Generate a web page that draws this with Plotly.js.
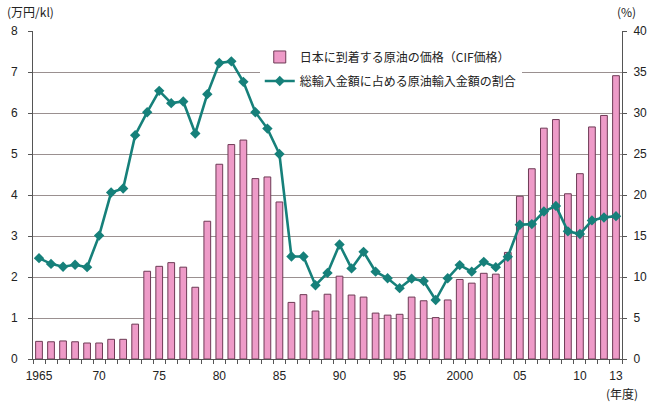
<!DOCTYPE html>
<html>
<head>
<meta charset="utf-8">
<script src="https://cdn.plot.ly/plotly-3.0.1.min.js"></script>
<style>html,body{margin:0;padding:0;background:#fff;}#chart{width:650px;height:407px;}</style>
</head>
<body>
<div id="chart"></div>
<script>
const years = [1965,1966,1967,1968,1969,1970,1971,1972,1973,1974,1975,1976,1977,1978,1979,1980,1981,1982,1983,1984,1985,1986,1987,1988,1989,1990,1991,1992,1993,1994,1995,1996,1997,1998,1999,2000,2001,2002,2003,2004,2005,2006,2007,2008,2009,2010,2011,2012,2013];
const cifPrice = [0.43,0.42,0.44,0.42,0.39,0.39,0.48,0.48,0.85,2.14,2.26,2.35,2.24,1.75,3.36,4.75,5.23,5.34,4.40,4.44,3.83,1.38,1.57,1.17,1.58,2.02,1.56,1.51,1.12,1.07,1.09,1.51,1.42,1.01,1.44,1.94,1.85,2.09,2.07,2.60,3.97,4.64,5.63,5.84,4.03,4.52,5.66,5.94,6.91];
const crudeShare = [12.3,11.6,11.25,11.5,11.2,15.05,20.3,20.8,27.3,30.1,32.7,31.2,31.4,27.5,32.3,36.1,36.3,33.8,30.1,28.1,25.0,12.5,12.5,9.0,10.5,13.96,11.05,13.07,10.65,9.85,8.64,9.8,9.52,7.19,9.85,11.45,10.65,11.85,11.2,12.46,16.38,16.45,17.99,18.67,15.57,15.24,16.9,17.26,17.42];
const tickYears = [1965,1970,1975,1980,1985,1990,1995,2000,2005,2010,2013];
const tickLabels = ['1965','70','75','80','85','90','95','2000','05','10','13'];
const boundaryTicks = years.map(y => y - 0.5).concat([years[years.length-1] + 0.5]);

const numFont = {family: 'Liberation Sans, Arial, sans-serif', size: 12, color: '#222'};
const jpFont = {family: 'Noto Sans CJK JP, sans-serif', size: 12, color: '#222'};

const traces = [
  {
    type: 'bar', x: years, y: cifPrice, name: '日本に到着する原油の価格（CIF価格）',
    width: 0.56,
    marker: {color: '#EE9BC8', line: {color: '#6E3A55', width: 1}},
    xaxis: 'x', yaxis: 'y', legendgroup: 'a'
  },
  {
    type: 'scatter', mode: 'lines+markers', x: years, y: crudeShare,
    name: '総輸入金額に占める原油輸入金額の割合',
    line: {color: '#16807A', width: 2.6},
    marker: {symbol: 'diamond', size: 8, color: '#16807A'},
    xaxis: 'x', yaxis: 'y2', legendgroup: 'b'
  },
  {
    type: 'scatter', mode: 'markers', x: [years[0]], y: [0], showlegend: false,
    marker: {opacity: 0}, hoverinfo: 'skip', xaxis: 'x2', yaxis: 'y'
  }
];

const xRange = [years[0] - 0.5, years[years.length-1] + 0.5];

const layout = {
  width: 650, height: 407,
  margin: {l: 33, r: 28, t: 31, b: 48},
  paper_bgcolor: '#fff', plot_bgcolor: '#fff',
  showlegend: true,
  legend: {
    x: 0.385, y: 0.965, xanchor: 'left', yanchor: 'top',
    bgcolor: '#fff', font: jpFont, traceorder: 'grouped', tracegroupgap: 5,
    itemwidth: 30
  },
  bargap: 0.4,
  xaxis: {
    range: xRange, tickmode: 'array', tickvals: tickYears, ticktext: tickLabels,
    ticks: '', showgrid: false, zeroline: false, showline: true,
    linecolor: '#555', linewidth: 1, tickfont: numFont, fixedrange: true,
    ticklabelstandoff: 6
  },
  xaxis2: {
    overlaying: 'x', range: xRange, tickmode: 'array', tickvals: boundaryTicks,
    showticklabels: false, ticks: 'outside', ticklen: 4, tickcolor: '#555',
    showgrid: false, zeroline: false, showline: false, side: 'bottom', anchor: 'y'
  },
  yaxis: {
    range: [0, 8], dtick: 1, tick0: 0, showgrid: true, gridcolor: '#9a9090', gridwidth: 1,
    zeroline: false, showline: true, linecolor: '#555', ticks: 'outside', ticklen: 4,
    tickcolor: '#555', tickfont: numFont, ticklabelstandoff: 8
  },
  yaxis2: {
    range: [0, 40], dtick: 5, tick0: 0, overlaying: 'y', side: 'right',
    showgrid: false, zeroline: false, showline: true, linecolor: '#555',
    ticks: 'outside', ticklen: 4, tickcolor: '#555', tickfont: numFont, ticklabelstandoff: 4
  },
  annotations: [
    {text: '(万円/kl)', xref: 'paper', yref: 'paper', x: -0.048, y: 1.058,
     xanchor: 'left', yanchor: 'middle', showarrow: false, font: jpFont},
    {text: '(%)', xref: 'paper', yref: 'paper', x: 1.007, y: 1.058,
     xanchor: 'center', yanchor: 'middle', showarrow: false, font: jpFont},
    {text: '(年度)', xref: 'paper', yref: 'paper', x: 1.0, y: -0.105,
     xanchor: 'center', yanchor: 'middle', showarrow: false, font: jpFont}
  ]
};

Plotly.newPlot('chart', traces, layout, {displayModeBar: false, staticPlot: true});
</script>
</body>
</html>
